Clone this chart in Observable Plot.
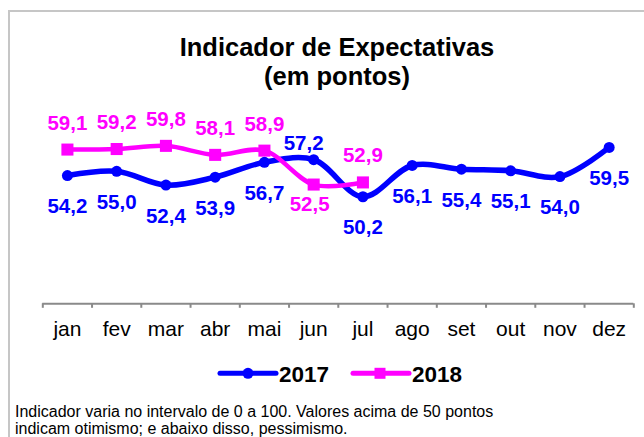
<!DOCTYPE html>
<html>
<head>
<meta charset="utf-8">
<script src="https://cdn.jsdelivr.net/npm/d3@7"></script>
<script src="https://cdn.jsdelivr.net/npm/@observablehq/plot@0.6"></script>
<style>
  body { margin: 0; background: #fff; }
  #wrap { position: relative; width: 644px; height: 437px; overflow: hidden;
          font-family: Arial, "Liberation Sans", sans-serif; background: #fff; }
  #frame { position: absolute; left: 8px; top: 10px; width: 700px; height: 500px;
           border: 2px solid #c6c6c6; box-sizing: border-box; }
  .title { position: absolute; left: 0; width: 674px; text-align: center;
           font-weight: bold; font-size: 25.5px; line-height: 24px; color: #000; white-space: nowrap; }
  #t1 { top: 35.2px; }
  #t2 { top: 64px; }
  #caption { position: absolute; left: 15px; top: 402.5px; font-size: 16px;
             line-height: 17px; color: #000; white-space: nowrap; }
  #chart, #legend { position: absolute; left: 0; top: 0; }
</style>
</head>
<body>
<div id="wrap">
  <div id="frame"></div>
  <div class="title" id="t1">Indicador de Expectativas</div>
  <div class="title" id="t2">(em pontos)</div>
  <div id="chart"></div>
  <svg id="legend" width="644" height="437"></svg>
  <div id="caption">Indicador varia no intervalo de 0 a 100. Valores acima de 50 pontos<br>indicam otimismo; e abaixo disso, pessimismo.</div>
</div>
<script>
// ---- data ----
const months = ["jan", "fev", "mar", "abr", "mai", "jun", "jul", "ago", "set", "out", "nov", "dez"];
const series = ["2017", "2018"];
const values2017 = [54.2, 55.0, 52.4, 53.9, 56.7, 57.2, 50.2, 56.1, 55.4, 55.1, 54.0, 59.5];
const values2018 = [59.1, 59.2, 59.8, 58.1, 58.9, 52.5, 52.9];

// ---- styling / layout ----
const colors = { "2017": "#0000ff", "2018": "#ff00ff" };
const font = 'Arial, "Liberation Sans", sans-serif';
// months whose label sits on the opposite side of the usual one
const flip2017 = new Set(["jun"]);
const flip2018 = new Set(["jun"]);

const rows = (vals, s) => vals.map((v, i) => ({ serie: s, i, month: months[i], v }));
const r17 = rows(values2017, "2017");
const r18 = rows(values2018, "2018");
const fmt = v => d3.format(".1f")(v).replace(".", ",");
const X = d => d.i + 0.5;

const labelStyle = (s) => ({ x: X, y: "v", text: d => fmt(d.v), fill: colors[s],
  fontSize: 20.5, fontWeight: "bold" });

const plot = Plot.plot({
  width: 644,
  height: 345,
  marginLeft: 42.3,
  marginRight: 10.7,
  marginTop: 91.3,
  marginBottom: 41.7,
  style: { fontFamily: font, background: "transparent", overflow: "visible" },
  x: { type: "linear", domain: [0, months.length] },
  y: { domain: [30, 70], axis: null },
  marks: [
    Plot.ruleY([30], { stroke: "#8a8a8a", strokeWidth: 2 }),
    Plot.axisX({ ticks: d3.range(months.length + 1), tickSize: 4.5, tickFormat: () => "",
      stroke: "#8a8a8a", strokeWidth: 2 }),
    Plot.text(months, { x: (d, i) => i + 0.5, y: () => 30, text: d => d, dy: 25.5,
      fontSize: 21, fill: "#000" }),
    Plot.line(r17, { x: X, y: "v", stroke: colors["2017"], strokeWidth: 5.5, curve: "catmull-rom" }),
    Plot.dot(r17, { x: X, y: "v", r: 5.5, fill: colors["2017"], stroke: "none" }),
    Plot.line(r18, { x: X, y: "v", stroke: colors["2018"], strokeWidth: 4.5, curve: "catmull-rom" }),
    Plot.dot(r18, { x: X, y: "v", r: 6.8, symbol: "square", fill: colors["2018"], stroke: "none" }),
    Plot.text(r17.filter(d => !flip2017.has(d.month)), { ...labelStyle("2017"), dy: 31 }),
    Plot.text(r17.filter(d => flip2017.has(d.month)), { ...labelStyle("2017"), dy: -16.7, dx: -10 }),
    Plot.text(r18.filter(d => !flip2018.has(d.month)), { ...labelStyle("2018"), dy: -26.5 }),
    Plot.text(r18.filter(d => flip2018.has(d.month)), { ...labelStyle("2018"), dy: 20, dx: -4 })
  ]
});
document.getElementById("chart").appendChild(plot);

// ---- legend ----
const legend = d3.select("#legend");
const legendX = [220, 353];
series.forEach((s, k) => {
  const x0 = legendX[k], cy = 373.3;
  const g = legend.append("g");
  g.append("line").attr("x1", x0).attr("x2", x0 + 56).attr("y1", cy).attr("y2", cy)
    .attr("stroke", colors[s]).attr("stroke-width", 5).attr("stroke-linecap", "round");
  if (s === "2017") {
    g.append("circle").attr("cx", x0 + 28).attr("cy", cy).attr("r", 5.5).attr("fill", colors[s]);
  } else {
    g.append("rect").attr("x", x0 + 27 - 5.5).attr("y", cy - 5.5).attr("width", 11).attr("height", 11)
      .attr("fill", colors[s]);
  }
  g.append("text").attr("x", x0 + 59).attr("y", 382).text(s)
    .attr("font-family", font).attr("font-weight", "bold").attr("font-size", 22.5).attr("fill", "#000");
});
</script>
</body>
</html>
